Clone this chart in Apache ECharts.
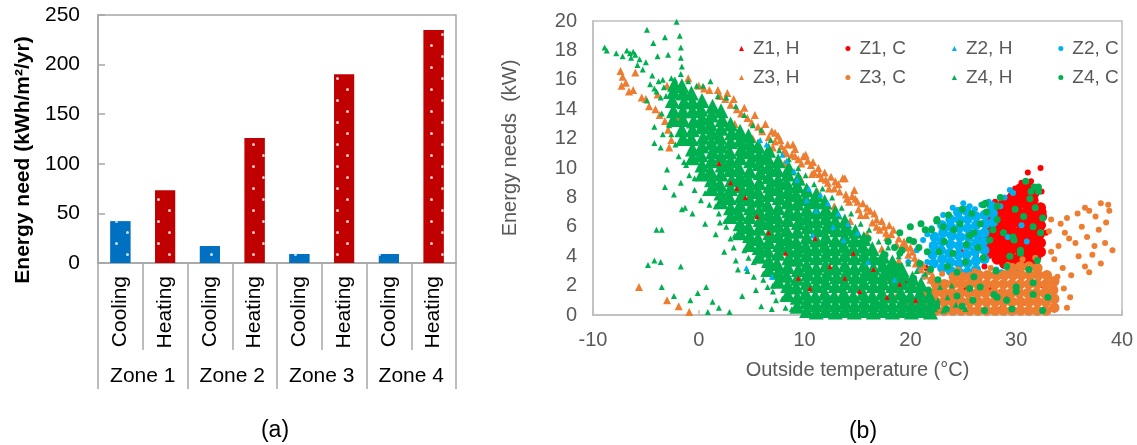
<!DOCTYPE html>
<html>
<head>
<meta charset="utf-8">
<script src="https://cdn.jsdelivr.net/npm/echarts@6/dist/echarts.min.js"></script>
<style>
  html, body { margin: 0; padding: 0; background: #fff; }
  #chart { width: 1137px; height: 445px; }
</style>
</head>
<body>
<div id="chart"></div>
<script>
// (a) annual energy need per zone
const zones = ['Zone 1', 'Zone 2', 'Zone 3', 'Zone 4']
const uses = ['Cooling', 'Heating']
const coolingNeed = [42, 17, 9, 9]
const heatingNeed = [73, 126, 190, 235]

// (b) hourly energy needs vs outside temperature, [°C, kW]
const z1Heat = [[3.0,9.0],[3.6,8.6],[5.5,6.7],[6.6,5.6],[8.2,4.2],[9.4,2.5],[10.5,1.8],[12.4,3.3],[13.8,2.5],[15.2,1.6],[16.5,3.1],[17.8,1.2],[19.0,2.1],[20.5,1.0],[11.0,5.2],[14.6,4.2],[1.9,10.3],[4.4,8.0]]

const z1CoolCore = [
  [27.5,4.2],[27.4,4.8],[27.5,5.4],[27.6,6.0],[27.5,6.5],
  [28.2,3.8],[28.1,4.3],[28.2,4.9],[28.3,5.5],[28.2,6.1],[28.1,6.7],[28.2,7.2],
  [28.9,3.5],[28.9,4.0],[28.8,4.6],[28.9,5.2],[29.0,5.8],[28.9,6.4],[28.9,7.0],[28.8,7.6],
  [29.6,3.3],[29.6,3.8],[29.5,4.4],[29.6,5.0],[29.7,5.6],[29.6,6.2],[29.6,6.8],[29.5,7.4],[29.6,8.0],
  [30.3,3.3],[30.3,3.9],[30.2,4.5],[30.3,5.1],[30.4,5.7],[30.3,6.3],[30.3,6.9],[30.2,7.5],[30.3,8.1],[30.4,8.6],
  [31.0,3.4],[31.0,4.0],[30.9,4.6],[31.0,5.2],[31.1,5.8],[31.0,6.4],[31.0,7.0],[30.9,7.6],[31.0,8.2],[31.1,8.8],
  [31.7,3.6],[31.7,4.2],[31.6,4.8],[31.7,5.4],[31.8,6.0],[31.7,6.6],[31.7,7.2],[31.6,7.8],[31.7,8.3],
  [32.3,4.3],[32.3,4.9],[32.2,5.5],[32.3,6.1],[32.4,6.7],[32.3,7.3]
]
const z1CoolSpread = [[32.3,10.0],[31.1,9.7],[30.5,9.0],[31.4,9.1],[32.4,8.4],[32.8,5.6],[32.6,7.0],[32.1,3.9],[29.9,8.6],[28.0,7.7],[27.3,6.6],[26.4,5.2],[26.2,4.0],[27.0,3.3],[26.5,2.4],[27.4,1.8],[28.3,2.6],[29.0,1.2],[29.8,2.1],[30.6,0.8],[26.0,0.9],[25.2,1.7],[24.3,2.6],[23.5,1.1],[22.4,2.0],[21.5,3.2],[20.8,1.4],[24.8,4.3],[23.2,3.8],[19.6,2.3],[18.4,3.5],[17.5,2.2],[28.6,0.4],[31.3,2.5],[32.5,2.0]]

const z2Heat = [[5.8,11.9],[6.4,11.6],[7.9,10.9],[8.3,10.5],[9.0,9.8],[9.3,9.2],[10.2,7.8],[10.4,8.6],[11.1,7.1],[11.5,8.2],[12.2,7.6],[12.7,6.0],[13.2,6.9],[13.7,5.1],[14.1,6.2],[15.0,5.6],[6.9,2.6],[4.5,3.2],[10.8,5.4],[16.0,3.6],[18.5,2.4]]

const z2CoolCore = [
  [22.2,3.5],[22.1,4.1],[22.2,4.7],[22.3,5.3],
  [23.0,3.2],[23.0,3.8],[22.9,4.4],[23.0,5.0],[23.1,5.6],[23.0,6.1],
  [23.8,3.0],[23.8,3.6],[23.7,4.2],[23.8,4.8],[23.9,5.4],[23.8,6.0],[23.8,6.5],
  [24.6,2.9],[24.6,3.5],[24.5,4.1],[24.6,4.7],[24.7,5.3],[24.6,5.9],[24.6,6.5],[24.5,7.0],
  [25.4,2.9],[25.4,3.5],[25.3,4.1],[25.4,4.7],[25.5,5.3],[25.4,5.9],[25.4,6.5],[25.3,7.1],
  [26.2,3.1],[26.2,3.7],[26.1,4.3],[26.2,4.9],[26.3,5.5],[26.2,6.1],[26.2,6.7],
  [27.0,3.8],[27.0,4.4],[26.9,5.0],[27.0,5.6],[27.1,6.2],[27.0,6.8],
  [27.8,6.3],[27.8,6.9],[27.7,7.4]
]
const z2CoolSpread = [[21.2,5.1],[21.6,5.5],[22.0,5.9],[21.6,3.6],[21.3,2.6],[22.5,6.4],[23.1,6.8],[23.6,6.5],[24.7,7.1],[25.6,7.4],[26.1,7.2],[27.4,7.7],[28.5,7.4],[29.4,8.5],[29.7,8.3],[28.9,8.0],[24.0,7.3],[20.6,4.4],[20.9,3.2],[22.0,2.3],[23.4,2.2],[24.8,2.1],[26.0,2.4],[27.4,2.6],[28.6,2.9],[29.3,3.0],[30.3,2.8],[29.2,5.3],[30.5,6.1],[31.0,5.0],[19.8,3.6],[26.7,7.5],[25.0,7.6],[28.1,3.1]]

const z3Heat = [
  [-7.4,16.6],[-7.3,15.6],[-7.2,16.2],[-6.9,15.8],[-6.6,15.2],[-6.2,15.3],[-6.0,16.5],[-5.4,14.8],[-5.0,14.7],[-4.7,14.2],[-4.1,14.0],[-3.7,13.6],[-3.2,13.2],[-2.9,12.6],[-2.6,11.9],[-2.8,11.4],[-5.65,1.9],[-3.0,1.0],[-1.9,0.6],[-0.9,0.2],[-1.0,16.1],[-1.9,13.3],[-3.9,15.0],[-3.0,15.6],
  [0.0,15.6],[0.5,15.4],[1.0,15.3],[1.8,15.3],[2.0,14.9],[2.5,14.7],[2.7,15.1],[3.0,14.3],[3.3,14.7],[3.6,14.0],[4.0,13.7],[4.3,14.1],[4.6,13.4],[5.0,13.1],[5.3,13.6],[5.6,12.8],[6.0,12.5],[6.3,13.0],[6.6,12.1],[6.9,12.5],[7.2,11.8],[7.5,12.2],[7.8,11.5],[8.1,11.2],[8.4,11.6],[8.8,10.9],[9.1,11.3],[9.4,10.6],[9.9,10.8],[10.3,10.5],[10.6,10.2],[10.9,9.7],[11.3,10.0],[11.6,9.3],[11.9,9.7],[12.2,9.0],[12.5,9.4],[12.8,8.6],[13.2,8.9],[13.6,9.3],[13.9,8.2],[14.2,7.7],[14.7,8.5],[14.8,7.9],[15.1,7.2],[15.5,7.6],[15.8,6.8],[16.2,7.1],[16.4,6.3],[16.8,6.5],[17.1,5.8],[17.5,6.0],[17.8,5.3],[18.2,5.5],[18.4,5.8],[18.7,4.8],[19.1,4.5],[19.4,5.0],[19.8,4.1],[20.2,4.3],[20.5,3.5],[21.0,3.1],[21.4,2.7],[21.9,2.4],[22.4,2.0],
  [7.2,12.4],[7.0,11.4],[7.7,11.9],[8.3,11.0],[8.9,11.6],[9.1,10.8],[9.7,10.3],[10.1,10.9],[10.8,10.4],[10.7,9.6],[11.4,9.6],[12.0,9.2],[12.3,8.6],[12.9,9.1],[13.3,8.4],[13.8,9.3],[14.0,7.9],[14.5,8.1],[15.0,7.7],[15.3,6.8],[15.9,7.3],[16.6,6.9],[16.8,6.0],[17.3,6.4],[17.7,5.6],[18.0,6.1],[18.9,5.2],[19.3,4.8],[19.65,4.6],[20.0,4.6],[20.4,3.9],[20.8,3.6],[21.2,3.4],[21.7,3.0],[22.1,2.7],[22.7,2.3],[23.2,1.9],
  [1.5,13.9],[3.4,13.0],[5.1,12.0],[6.8,11.0],[8.1,10.3],[9.6,9.3],[11.2,8.4],[12.8,7.4],[14.3,6.4],[15.9,5.5],[17.3,4.5],[18.9,3.7]
]

const z3CoolCore = [
  [20.8,0.3],[20.8,0.9],
  [21.6,0.3],[21.5,0.9],[21.6,1.5],
  [22.4,0.3],[22.4,0.9],[22.3,1.5],[22.4,2.1],
  [23.2,0.3],[23.2,0.9],[23.1,1.5],[23.2,2.1],
  [24.0,0.3],[24.0,0.9],[23.9,1.5],[24.0,2.1],[24.1,2.6],
  [24.8,0.3],[24.8,0.9],[24.7,1.5],[24.8,2.1],[24.9,2.6],
  [25.6,0.3],[25.6,0.9],[25.5,1.5],[25.6,2.1],[25.7,2.6],
  [26.4,0.3],[26.4,0.9],[26.3,1.5],[26.4,2.1],[26.5,2.7],
  [27.2,0.3],[27.2,0.9],[27.1,1.5],[27.2,2.1],[27.3,2.7],
  [28.0,0.3],[28.0,0.9],[27.9,1.5],[28.0,2.1],[28.1,2.7],
  [28.8,0.3],[28.8,0.9],[28.7,1.5],[28.8,2.1],[28.9,2.7],
  [29.6,0.3],[29.6,0.9],[29.5,1.5],[29.6,2.1],[29.7,2.7],[29.6,3.2],
  [30.4,0.3],[30.4,0.9],[30.3,1.5],[30.4,2.1],[30.5,2.7],[30.4,3.3],
  [31.2,0.3],[31.2,0.9],[31.1,1.5],[31.2,2.1],[31.3,2.7],[31.2,3.3],
  [32.0,0.3],[32.0,0.9],[31.9,1.5],[32.0,2.1],[32.1,2.7],[32.0,3.2],
  [32.8,0.3],[32.8,0.9],[32.7,1.5],[32.8,2.1],[32.9,2.7],
  [33.6,0.5],[33.6,1.1],[33.5,1.7],[33.6,2.3]
]
const z3CoolSpread = [[33.3,6.5],[34.2,6.2],[34.8,6.6],[35.8,6.9],[36.5,7.3],[36.9,7.1],[38.0,7.6],[38.7,7.5],[38.8,7.1],[37.5,6.7],[35.0,5.2],[35.6,4.9],[36.7,5.3],[37.4,4.7],[38.4,4.9],[39.1,4.4],[37.2,4.1],[38.0,3.5],[36.5,3.3],[36.9,2.9],[35.2,2.7],[34.5,1.8],[35.1,1.2],[33.3,4.3],[33.6,3.8],[34.0,4.7],[33.1,5.7],[34.4,3.2],[33.9,2.6],[35.9,4.0],[38.5,6.3],[37.8,5.8],[36.2,6.0],[34.6,5.6],[34.8,0.5],[33.0,0.2],[31.8,3.9],[30.6,3.8],[29.2,3.4],[27.6,3.2],[26.1,3.0],[24.5,3.1],[23.0,2.8],[21.9,2.4],[20.3,1.8],[19.6,0.8],[19.9,0.3],[18.8,1.3]]

const z4HeatCore = [
  [-2.4,13.3],[-2.4,13.9],[-2.5,14.6],[-2.4,15.2],[-2.3,15.7],
  [-1.5,12.0],[-1.6,12.6],[-1.5,13.3],[-1.5,13.9],[-1.4,14.5],[-1.5,15.1],[-1.6,15.6],
  [-0.6,10.7],[-0.6,11.3],[-0.7,12.0],[-0.6,12.6],[-0.5,13.2],[-0.6,13.9],[-0.6,14.5],[-0.7,15.1],
  [0.3,9.6],[0.3,10.2],[0.2,10.9],[0.3,11.5],[0.4,12.1],[0.3,12.8],[0.3,13.4],[0.2,14.0],[0.3,14.6],
  [1.2,8.6],[1.2,9.2],[1.1,9.8],[1.2,10.5],[1.3,11.1],[1.2,11.7],[1.2,12.4],[1.1,13.0],[1.2,13.6],[1.3,14.2],
  [2.1,7.7],[2.1,8.3],[2.0,8.9],[2.1,9.6],[2.2,10.2],[2.1,10.8],[2.1,11.5],[2.0,12.1],[2.1,12.7],[2.2,13.3],[2.1,13.9],
  [3.0,6.7],[3.0,7.3],[2.9,8.0],[3.0,8.6],[3.1,9.2],[3.0,9.9],[3.0,10.5],[2.9,11.1],[3.0,11.8],[3.1,12.4],[3.0,13.0],
  [3.9,5.6],[3.9,6.2],[3.8,6.9],[3.9,7.5],[4.0,8.1],[3.9,8.8],[3.9,9.4],[3.8,10.0],[3.9,10.7],[4.0,11.3],[3.9,11.9],[3.9,12.5],
  [4.8,4.8],[4.8,5.4],[4.7,6.0],[4.8,6.7],[4.9,7.3],[4.8,7.9],[4.8,8.6],[4.7,9.2],[4.8,9.8],[4.9,10.5],[4.8,11.1],[4.8,11.7],[4.7,12.2],
  [5.7,4.0],[5.7,4.6],[5.6,5.2],[5.7,5.9],[5.8,6.5],[5.7,7.1],[5.7,7.8],[5.6,8.4],[5.7,9.0],[5.8,9.7],[5.7,10.3],[5.7,10.9],[5.6,11.5],
  [6.6,3.1],[6.6,3.7],[6.5,4.4],[6.6,5.0],[6.7,5.6],[6.6,6.3],[6.6,6.9],[6.5,7.5],[6.6,8.2],[6.7,8.8],[6.6,9.4],[6.6,10.1],[6.5,10.7],[6.6,11.2],
  [7.5,2.3],[7.5,2.9],[7.4,3.5],[7.5,4.2],[7.6,4.8],[7.5,5.4],[7.5,6.1],[7.4,6.7],[7.5,7.3],[7.6,8.0],[7.5,8.6],[7.5,9.2],[7.4,9.9],[7.5,10.5],
  [8.4,1.4],[8.4,2.0],[8.3,2.7],[8.4,3.3],[8.5,3.9],[8.4,4.6],[8.4,5.2],[8.3,5.8],[8.4,6.5],[8.5,7.1],[8.4,7.7],[8.4,8.4],[8.3,9.0],[8.4,9.6],[8.5,10.0],
  [9.3,0.6],[9.3,1.2],[9.2,1.9],[9.3,2.5],[9.4,3.1],[9.3,3.8],[9.3,4.4],[9.2,5.0],[9.3,5.7],[9.4,6.3],[9.3,6.9],[9.3,7.6],[9.2,8.2],[9.3,8.8],[9.4,9.3],
  [10.2,0.3],[10.2,0.9],[10.1,1.5],[10.2,2.2],[10.3,2.8],[10.2,3.4],[10.2,4.1],[10.1,4.7],[10.2,5.3],[10.3,6.0],[10.2,6.6],[10.2,7.2],[10.1,7.9],[10.2,8.5],
  [11.1,0.2],[11.1,0.7],[11.0,1.3],[11.1,2.0],[11.2,2.6],[11.1,3.2],[11.1,3.9],[11.0,4.5],[11.1,5.1],[11.2,5.8],[11.1,6.4],[11.1,7.0],[11.0,7.7],[11.1,8.2],
  [12.0,0.3],[12.0,0.9],[11.9,1.5],[12.0,2.2],[12.1,2.8],[12.0,3.4],[12.0,4.1],[11.9,4.7],[12.0,5.3],[12.1,6.0],[12.0,6.6],[12.0,7.2],[11.9,7.7],
  [12.9,0.2],[12.9,0.7],[12.8,1.3],[12.9,2.0],[13.0,2.6],[12.9,3.2],[12.9,3.9],[12.8,4.5],[12.9,5.1],[13.0,5.8],[12.9,6.4],[12.9,7.0],
  [13.8,0.3],[13.8,0.9],[13.7,1.5],[13.8,2.2],[13.9,2.8],[13.8,3.4],[13.8,4.1],[13.7,4.7],[13.8,5.3],[13.9,6.0],[13.8,6.4],
  [14.7,0.2],[14.7,0.7],[14.6,1.3],[14.7,2.0],[14.8,2.6],[14.7,3.2],[14.7,3.9],[14.6,4.5],[14.7,5.1],[14.8,5.7],
  [15.6,0.3],[15.6,0.9],[15.5,1.5],[15.6,2.2],[15.7,2.8],[15.6,3.4],[15.6,4.1],[15.5,4.7],[15.6,5.2],
  [16.5,0.2],[16.5,0.7],[16.4,1.3],[16.5,2.0],[16.6,2.6],[16.5,3.2],[16.5,3.9],[16.4,4.5],
  [17.4,0.3],[17.4,0.9],[17.3,1.5],[17.4,2.2],[17.5,2.8],[17.4,3.4],[17.4,4.0],
  [18.3,0.2],[18.3,0.7],[18.2,1.3],[18.3,2.0],[18.4,2.6],[18.3,3.2],[18.3,3.6],
  [19.2,0.3],[19.2,0.9],[19.1,1.5],[19.2,2.2],[19.3,2.8],[19.2,3.1],
  [20.1,0.2],[20.1,0.7],[20.0,1.3],[20.1,2.0],[20.2,2.5],
  [21.0,0.3],[21.0,0.9],[20.9,1.5],[21.0,2.1],
  [21.9,0.2],[21.9,0.7],[21.8,1.3]
]
const z4HeatSpread = [
  [-8.9,18.2],[-8.7,18.0],[-7.8,17.8],[-7.2,17.6],[-6.8,18.0],[-6.5,17.8],[-6.2,17.9],[-6.0,17.7],[-6.4,17.5],[-5.8,17.0],[-5.6,17.4],[-5.0,17.2],[-5.3,16.7],[-4.9,19.4],[-4.3,18.5],[-3.9,17.6],[-3.2,18.9],[-2.9,17.7],[-2.1,19.95],[-1.8,19.0],[-1.7,18.2],[-1.7,17.5],[-1.6,16.9],[-1.7,16.4],[-2.25,16.0],[-2.6,16.1],[-3.4,16.0],[-4.4,16.3],[-4.6,15.7],[-4.0,15.2],[-4.9,14.6],[-3.6,14.8],[-4.2,15.4],[-3.8,15.9],[-3.3,15.5],[-3.1,14.9],[-2.9,14.3],[-3.5,13.7],[-2.8,12.9],[-2.6,12.3],[-2.2,11.6],[-1.9,10.8],[-1.2,10.2],[-0.9,9.5],
  [-4.2,12.8],[-4.2,11.7],[-3.6,11.4],[-3.4,12.3],[-3.0,9.9],[-3.2,8.7],[-2.35,8.2],[-1.7,9.0],[-1.3,7.3],[-0.6,6.9],[-1.6,7.2],[-4.0,5.8],[-3.5,5.8],[-4.2,3.7],[-4.8,3.4],[-3.6,3.6],[-3.5,1.9],[-1.7,3.3],[-2.35,1.3],[-0.8,1.0],[-0.1,1.5],[0.7,1.9],[0.85,0.2],[1.3,0.9],[1.9,0.5],[2.9,0.2],[3.7,3.1],[4.1,1.3],[5.4,1.7],[5.9,0.6],[6.5,1.9],[3.5,3.7],[2.4,4.3],[1.6,5.5],[0.6,6.2],[0.2,7.8],[-0.4,8.5],[2.0,6.3],[3.0,5.2],[4.6,3.0],[7.3,1.0],[6.9,0.4],[8.2,0.5],[5.2,2.6],[6.1,2.4],[7.0,1.6],[3.3,4.6],[4.7,3.9],[1.0,7.5],[1.9,6.9],[2.6,6.0],
  [0.4,15.6],[1.1,15.9],[2.6,14.8],[4.3,13.6],[5.9,12.6],[7.6,11.2],[9.4,10.0],[10.9,8.9],[12.6,8.0],[14.4,6.9],[16.1,5.8],[17.9,4.6],[19.8,3.5],[21.4,2.8],[22.8,1.9],[23.5,1.2],[24.3,0.7],[23.1,0.3],[25.2,0.4],[22.6,1.0],[23.9,2.0],[20.6,3.0],[18.9,4.0],[17.0,5.0],[15.3,6.2],[13.5,7.3],[11.7,8.6],[10.1,9.5],[8.5,10.6],[6.8,11.9],[5.1,12.9],[3.5,14.2],[1.8,14.9],[-0.2,15.6],[-1.0,15.9],
  [-1.4,10.4],[-0.4,9.3],[0.6,8.3],[1.6,7.4],[2.5,6.4],[3.4,5.4],[4.3,4.4],[5.2,3.6],[6.1,2.8],[7.0,2.0],[7.9,1.1],[8.8,0.4]
]

const z4Cool = [[22.5,6.4],[21.4,5.8],[20.3,5.0],[18.9,3.3],[17.8,2.6],[19.0,4.2],[18.5,4.6],[17.6,4.1],[20.9,3.5],[21.9,3.1],[24.7,6.2],[24.1,5.8],[25.6,5.4],[23.2,5.0],[26.0,2.6],[24.4,1.3],[22.5,0.6],
  [26.9,7.5],[31.7,8.7],[31.3,7.9],[32.1,8.4],[27.2,7.0],[28.2,6.5],[28.8,5.6],[29.8,5.1],[31.6,6.0],[30.4,4.2],[29.1,3.3],[31.6,2.2],[30.0,1.6],[28.2,1.2],[25.6,1.8],[24.4,2.9],[22.0,5.8],[22.5,6.5],[19.9,5.1],[20.8,4.6],[18.1,3.3],[17.2,3.5],[19.2,4.4],[19.0,5.6],
  [32.1,8.7],[31.4,8.4],[30.9,9.1],[31.8,7.3],[32.3,5.6],[32.0,3.7],[30.4,4.4],[29.7,5.3],[29.4,4.0],[27.8,5.8],[27.5,5.1],[26.6,6.2],[26.0,5.6],[25.3,4.8],[26.9,3.9],[28.1,3.0],[26.6,1.9],[27.9,1.4],[25.9,1.0],[29.1,1.0],[30.0,1.9],[31.6,1.4],[27.1,7.6],[28.2,7.4],
  [14.5,2.3],[15.4,1.2],[16.2,2.8],[16.9,0.7],[17.3,1.8],[18.2,0.5],[18.8,2.0],[19.5,1.1],[20.3,2.5],[21.0,0.6],[21.7,1.7],[22.6,2.4],[23.4,0.4],[13.6,0.9],[14.9,3.6],[16.3,4.2],[15.6,3.1],[17.9,5.0],[23.6,6.8],[23.1,6.0],[21.0,6.2],[20.0,6.0],[24.0,4.2],[23.5,3.3],[22.7,4.3],[25.2,3.6],[26.4,4.6],[24.9,7.2],[25.8,6.9],[28.5,8.0],[29.9,7.2],[30.7,6.7],[32.5,6.6],[31.2,3.1],[33.0,1.2],[32.5,0.3],[29.6,0.4],[27.0,0.3],[24.9,0.6],[20.0,0.3],[19.0,3.0],[16.8,3.7],[15.0,4.9],[13.9,4.0],[13.2,2.4],[12.5,1.1],[14.2,5.6],[16.0,5.2],[21.6,4.3]]

const RED = '#FF0000'
const BLUE = '#00B0F0'
const ORANGE = '#ED7D31'
const GREEN = '#00B050'
const FONT = '"Liberation Sans", Arial, sans-serif'
const GRAY_A = '#a6a6a6'
const GRAY_B = '#bfbfbf'

const barCats = []
const coolData = []
const heatData = []
zones.forEach((z, i) => {
  barCats.push(uses[0], uses[1])
  coolData.push(coolingNeed[i], '-')
  heatData.push('-', heatingNeed[i])
})

// sparse staggered white dots, as in the original bar fill
function dots(bg) {
  return {
    symbol: 'circle',
    symbolSize: 1,
    color: 'rgba(255,255,255,0.8)',
    backgroundColor: bg,
    dashArrayX: [[3, 18], [0, 10, 3, 8]],
    dashArrayY: [3, 8]
  }
}

function pts(name, data, symbol, size, color, z) {
  return {
    name: name,
    type: 'scatter',
    xAxisIndex: 2,
    yAxisIndex: 1,
    data: data,
    symbol: symbol,
    symbolSize: size,
    itemStyle: { color: color, opacity: 1 },
    z: z || 2,
    silent: true
  }
}

const chart = echarts.init(document.getElementById('chart'), null, { renderer: 'canvas' })
chart.setOption({
  animation: false,
  textStyle: { fontFamily: FONT },
  grid: [
    { left: 98, right: 681, top: 15, bottom: 182, show: true, borderColor: GRAY_A, borderWidth: 1.5 },
    { left: 593, right: 15, top: 21, bottom: 130, show: true, borderColor: GRAY_B, borderWidth: 1.5 }
  ],
  legend: [
    {
      left: 734, top: 34, itemWidth: 5, itemHeight: 5, itemGap: 46, selectedMode: false,
      textStyle: { fontSize: 19, color: '#595959', fontFamily: FONT, padding: [0, 0, 0, 4] },
      data: [
        { name: 'Z1, H', icon: 'triangle' }, { name: 'Z1, C', icon: 'circle' },
        { name: 'Z2, H', icon: 'triangle' }, { name: 'Z2, C', icon: 'circle' }
      ]
    },
    {
      left: 734, top: 63, itemWidth: 5, itemHeight: 5, itemGap: 46, selectedMode: false,
      textStyle: { fontSize: 19, color: '#595959', fontFamily: FONT, padding: [0, 0, 0, 4] },
      data: [
        { name: 'Z3, H', icon: 'triangle' }, { name: 'Z3, C', icon: 'circle' },
        { name: 'Z4, H', icon: 'triangle' }, { name: 'Z4, C', icon: 'circle' }
      ]
    }
  ],
  xAxis: [
    {
      gridIndex: 0, type: 'category', data: barCats,
      axisLine: { lineStyle: { color: GRAY_A, width: 1.5 } },
      axisTick: { show: true, length: 87, interval: 0, lineStyle: { color: GRAY_A, width: 1.5 } },
      axisLabel: { interval: 0, rotate: 90, margin: 13, fontSize: 21, color: '#000', fontFamily: FONT }
    },
    {
      gridIndex: 0, type: 'category', data: zones, position: 'bottom', offset: 87,
      axisLine: { show: false },
      axisTick: { show: true, length: 39, interval: 0, lineStyle: { color: GRAY_A, width: 1.5 } },
      axisLabel: { interval: 0, margin: 16, fontSize: 21, color: '#000', fontFamily: FONT }
    },
    {
      gridIndex: 1, type: 'value', min: -10, max: 40, interval: 10,
      name: 'Outside temperature (°C)', nameLocation: 'middle', nameGap: 45,
      nameTextStyle: { fontSize: 20, color: '#595959', fontFamily: FONT },
      axisLine: { show: true, onZero: false, lineStyle: { color: GRAY_B, width: 1.5 } },
      axisTick: { show: true, inside: true, length: 5, lineStyle: { color: GRAY_B, width: 1.5 } },
      axisLabel: { margin: 15, fontSize: 20, color: '#595959', fontFamily: FONT },
      splitLine: { show: false }
    }
  ],
  yAxis: [
    {
      gridIndex: 0, type: 'value', min: 0, max: 250, interval: 50,
      axisLine: { show: true, lineStyle: { color: GRAY_A, width: 1.5 } },
      axisTick: { show: true, inside: true, length: 7, lineStyle: { color: GRAY_A, width: 1.5 } },
      axisLabel: { margin: 18, fontSize: 21, color: '#000', fontFamily: FONT },
      splitLine: { show: false }
    },
    {
      gridIndex: 1, type: 'value', min: 0, max: 20, interval: 2,
      axisLine: { show: true, onZero: false, lineStyle: { color: GRAY_B, width: 1.5 } },
      axisTick: { show: false },
      axisLabel: { margin: 16, fontSize: 20, color: '#595959', fontFamily: FONT },
      splitLine: { show: false }
    }
  ],
  graphic: [
    {
      type: 'text', x: 23, y: 160, rotation: Math.PI / 2,
      style: { text: 'Energy need (kWh/m²/yr)', font: 'bold 21px ' + FONT, fill: '#000', align: 'center', verticalAlign: 'middle' }
    },
    {
      type: 'text', x: 510, y: 148, rotation: Math.PI / 2,
      style: { text: 'Energy needs  (kW)', font: '20px ' + FONT, fill: '#595959', align: 'center', verticalAlign: 'middle' }
    },
    {
      type: 'text', x: 275, y: 431,
      style: { text: '(a)', font: '23px ' + FONT, fill: '#000', align: 'center', verticalAlign: 'middle' }
    },
    {
      type: 'text', x: 863, y: 432,
      style: { text: '(b)', font: '23px ' + FONT, fill: '#000', align: 'center', verticalAlign: 'middle' }
    }
  ],
  series: [
    {
      name: 'Cooling', type: 'bar', xAxisIndex: 0, yAxisIndex: 0, data: coolData,
      barWidth: 20, barGap: '-100%', silent: true,
      itemStyle: { color: '#0070C0', decal: dots('#0070C0') }
    },
    {
      name: 'Heating', type: 'bar', xAxisIndex: 0, yAxisIndex: 0, data: heatData,
      barWidth: 20, barGap: '-100%', silent: true,
      itemStyle: { color: '#C00000', decal: dots('#C00000') }
    },
    pts('Z1, H', z1Heat, 'triangle', 5, RED, 4),
    pts('Z1, C', z1CoolCore, 'circle', 11, RED),
    pts('Z1, C', z1CoolSpread, 'circle', 6, RED),
    pts('Z2, H', z2Heat, 'triangle', 6, BLUE, 3),
    pts('Z2, C', z2CoolCore, 'circle', 10, BLUE),
    pts('Z2, C', z2CoolSpread, 'circle', 6, BLUE),
    pts('Z3, H', z3Heat, 'triangle', 8, ORANGE),
    pts('Z3, C', z3CoolCore, 'circle', 10.5, ORANGE),
    pts('Z3, C', z3CoolSpread, 'circle', 6, ORANGE),
    pts('Z4, H', z4HeatCore, 'triangle', 15, GREEN),
    pts('Z4, H', z4HeatSpread, 'triangle', 6, GREEN),
    pts('Z4, C', z4Cool, 'circle', 7, GREEN)
  ]
})
</script>
</body>
</html>
